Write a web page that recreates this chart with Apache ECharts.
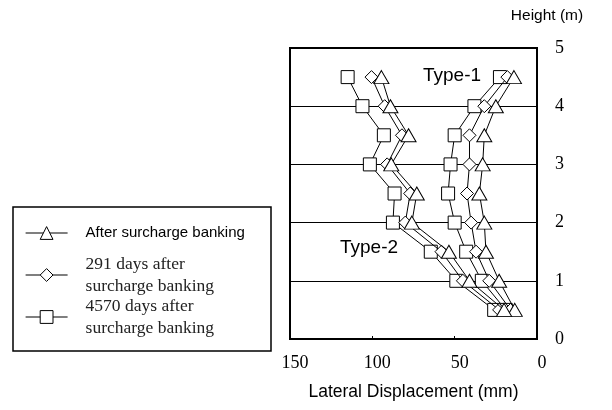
<!DOCTYPE html>
<html>
<head>
<meta charset="utf-8">
<script src="https://cdn.jsdelivr.net/npm/echarts@6/dist/echarts.min.js"></script>
<style>html,body{margin:0;padding:0;background:#fff}#c{width:612px;height:410px}</style>
</head>
<body>
<div id="c"></div>
<script>
// Heights (m) of measurement points
var heights = [4.5, 4, 3.5, 3, 2.5, 2, 1.5, 1, 0.5];
// Type-1 lateral displacement (mm)
var type1After = [14, 25, 32, 33, 35, 32, 31, 23, 13.5];
var type1Days291 = [18, 32, 41, 41, 42.5, 40, 37, 29, 16];
var type1Days4570 = [22.5, 38, 50, 52.5, 54, 50, 43, 33.5, 19];
// Type-2 lateral displacement (mm)
var type2After = [94.5, 89, 78, 88.5, 73, 76, 53.5, 41, 20];
var type2Days291 = [100.5, 92.5, 82, 91, 77, 80, 58, 45, 23];
var type2Days4570 = [115, 106, 93, 101.5, 86.5, 87.5, 64.5, 49, 26];

var xTicks = [0, 50, 100, 150];
var yTicks = [0, 1, 2, 3, 4, 5];

var seriesNames = ['After surcharge banking', '291 days after\nsurcharge banking', '4570 days after\nsurcharge banking'];

function pairs(vals) {
  return vals.map(function (v, i) { return [v, heights[i]]; });
}

var SANS = 'Liberation Sans, Arial, sans-serif';
var SERIF = 'Liberation Serif, Times New Roman, serif';

function mk(name, symbol, size, vals, z) {
  return {
    type: 'line',
    name: name,
    data: pairs(vals),
    symbol: symbol,
    symbolSize: size,
    showAllSymbol: true,
    z: z,
    lineStyle: { color: '#000', width: 1 },
    itemStyle: { color: '#fff', borderColor: '#000', borderWidth: 1 },
    emphasis: { disabled: true },
    animation: false
  };
}

var chart = echarts.init(document.getElementById('c'), null, { renderer: 'canvas' });
chart.setOption({
  backgroundColor: '#fff',
  animation: false,
  grid: {
    left: 290, right: 75, top: 48, bottom: 71,
    show: true, borderColor: '#000', borderWidth: 2, backgroundColor: 'transparent'
  },
  xAxis: {
    type: 'value', inverse: true, min: 0, max: 150, interval: 50,
    name: 'Lateral Displacement (mm)', nameLocation: 'middle', nameGap: 44,
    nameTextStyle: { fontFamily: SANS, fontSize: 17.5, color: '#000' },
    axisLine: { show: true, lineStyle: { color: '#000', width: 2 } },
    axisTick: { show: true, inside: true, length: 3, lineStyle: { color: '#000' } },
    splitLine: { show: false },
    axisLabel: { fontFamily: SERIF, fontSize: 18, color: '#000', margin: 15, padding: [0, 0, 0, 10] }
  },
  yAxis: {
    type: 'value', position: 'right', min: 0, max: 5, interval: 1,
    name: 'Height (m)', nameLocation: 'end', nameGap: 24,
    nameTextStyle: { fontFamily: SANS, fontSize: 15.5, color: '#000', padding: [0, 0, 0, 20] },
    axisLine: { show: true, lineStyle: { color: '#000', width: 2 } },
    axisTick: { show: false },
    splitLine: { show: true, lineStyle: { color: '#000', width: 1 } },
    axisLabel: { fontFamily: SERIF, fontSize: 18, color: '#000', margin: 18 }
  },
  legend: {
    orient: 'vertical', left: 25, top: 211, padding: 0, itemGap: -2,
    itemWidth: 42, itemHeight: 16, selectedMode: false,
    itemStyle: { color: '#fff', borderColor: '#000', borderWidth: 1 },
    lineStyle: { color: '#000', width: 1.2 },
    data: [
      { name: seriesNames[0], textStyle: { fontFamily: SANS, fontSize: 15, lineHeight: 44, color: '#000', padding: [0, 0, 0, 13] } },
      { name: seriesNames[1], textStyle: { fontFamily: SERIF, fontSize: 17.5, lineHeight: 22, color: '#222', padding: [0, 0, 0, 13] } },
      { name: seriesNames[2], textStyle: { fontFamily: SERIF, fontSize: 17.5, lineHeight: 22, color: '#222', padding: [0, 0, 0, 13] } }
    ]
  },
  graphic: [
    { type: 'rect', shape: { x: 13, y: 207, width: 258, height: 144 }, style: { fill: 'none', stroke: '#000', lineWidth: 1.5 }, z: 0 },
    { type: 'text', x: 452, y: 76, style: { text: 'Type-1', font: '19px Liberation Sans', fill: '#000', align: 'center', verticalAlign: 'middle' }, z: 10 },
    { type: 'text', x: 369, y: 248, style: { text: 'Type-2', font: '19px Liberation Sans', fill: '#000', align: 'center', verticalAlign: 'middle' }, z: 10 }
  ],
  series: [
    mk(seriesNames[2], 'rect', 13, type1Days4570, 2),
    mk(seriesNames[1], 'diamond', 13, type1Days291, 3),
    mk(seriesNames[0], 'triangle', [15, 13], type1After, 4),
    mk(seriesNames[2], 'rect', 13, type2Days4570, 2),
    mk(seriesNames[1], 'diamond', 13, type2Days291, 3),
    mk(seriesNames[0], 'triangle', [15, 13], type2After, 4)
  ]
});
</script>
</body>
</html>
